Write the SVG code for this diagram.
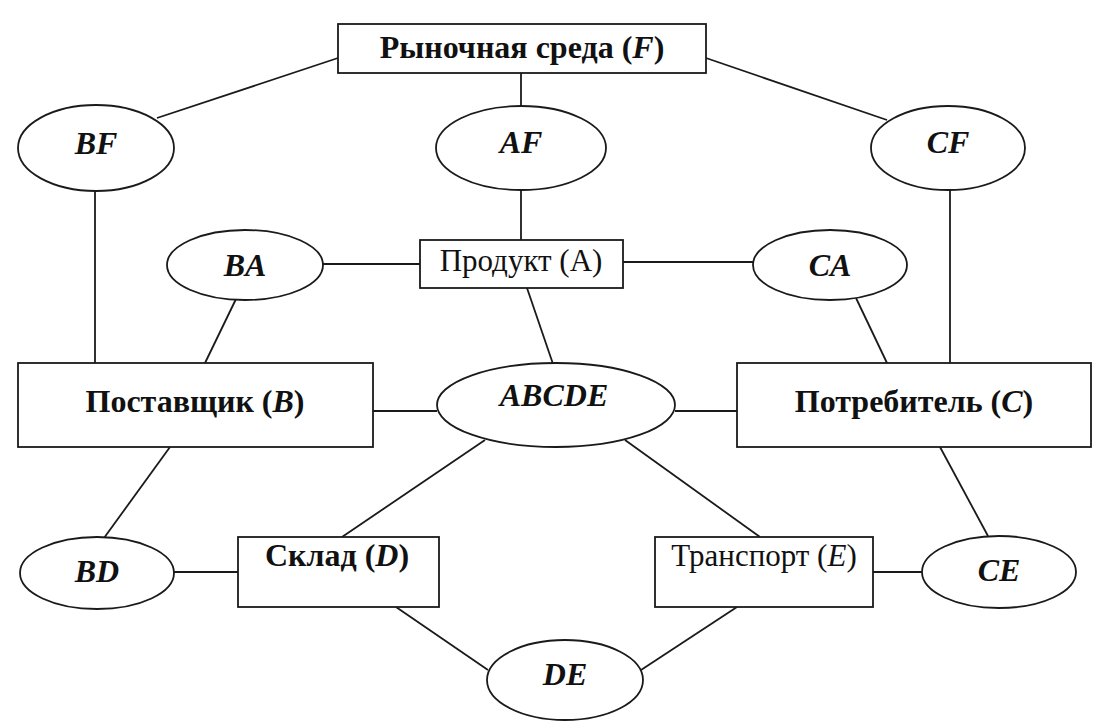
<svg xmlns="http://www.w3.org/2000/svg" width="1093" height="722" viewBox="0 0 1093 722">
  <style>
    .box { fill: #ffffff; stroke: #1a1a1a; stroke-width: 1.8; }
    .ell { fill: #ffffff; stroke: #1a1a1a; stroke-width: 1.8; }
    .edge { stroke: #1a1a1a; stroke-width: 1.8; fill: none; }
    text { font-family: "Liberation Serif", "Times New Roman", serif; fill: #111111; text-anchor: middle; }
    .bold { font-size: 32px; font-weight: bold; }
    .reg { font-size: 31px; }
    .var { font-style: italic; }
    .elabel { font-size: 32px; font-weight: bold; font-style: italic; }
  </style>
  <rect width="1093" height="722" fill="#ffffff"/>

  <!-- connectors -->
  <g id="connectors">
    <line class="edge" x1="338" y1="58" x2="157" y2="118"/>
    <line class="edge" x1="706" y1="58" x2="887" y2="120"/>
    <line class="edge" x1="521" y1="73" x2="521" y2="106"/>
    <line class="edge" x1="521" y1="190" x2="521" y2="240"/>
    <line class="edge" x1="95" y1="191" x2="95" y2="363"/>
    <line class="edge" x1="950" y1="190" x2="950" y2="363"/>
    <line class="edge" x1="323" y1="264" x2="420" y2="264"/>
    <line class="edge" x1="623" y1="262" x2="753" y2="262"/>
    <line class="edge" x1="236" y1="299" x2="205" y2="363"/>
    <line class="edge" x1="856" y1="298" x2="887" y2="363"/>
    <line class="edge" x1="527" y1="288" x2="553" y2="364"/>
    <line class="edge" x1="373" y1="411" x2="437" y2="411"/>
    <line class="edge" x1="675" y1="411" x2="737" y2="411"/>
    <line class="edge" x1="170" y1="447" x2="104" y2="538"/>
    <line class="edge" x1="940" y1="447" x2="988" y2="536"/>
    <line class="edge" x1="485" y1="440" x2="342" y2="537"/>
    <line class="edge" x1="625" y1="440" x2="760" y2="537"/>
    <line class="edge" x1="174" y1="572" x2="238" y2="572"/>
    <line class="edge" x1="873" y1="572" x2="922" y2="572"/>
    <line class="edge" x1="396" y1="607" x2="488" y2="670"/>
    <line class="edge" x1="737" y1="607" x2="641" y2="670"/>
  </g>

  <!-- market environment -->
  <g id="F">
    <rect class="box" x="338" y="24" width="368" height="49"/>
    <text class="bold" x="522" y="58">Рыночная среда (<tspan class="var">F</tspan>)</text>
  </g>

  <g id="BF">
    <ellipse class="ell" cx="96" cy="148" rx="78" ry="43"/>
    <text class="elabel" x="96" y="154">BF</text>
  </g>
  <g id="AF">
    <ellipse class="ell" cx="521" cy="148" rx="85" ry="42"/>
    <text class="elabel" x="521" y="153">AF</text>
  </g>
  <g id="CF">
    <ellipse class="ell" cx="948" cy="148" rx="77" ry="42"/>
    <text class="elabel" x="948" y="153">CF</text>
  </g>

  <g id="BA">
    <ellipse class="ell" cx="245" cy="265" rx="78" ry="35"/>
    <text class="elabel" x="245" y="276">BA</text>
  </g>
  <g id="A">
    <rect class="box" x="420" y="240" width="203" height="48"/>
    <text class="reg" x="521" y="271">Продукт (A)</text>
  </g>
  <g id="CA">
    <ellipse class="ell" cx="830" cy="265" rx="77" ry="35"/>
    <text class="elabel" x="830" y="276">CA</text>
  </g>

  <g id="B">
    <rect class="box" x="18" y="363" width="355" height="84"/>
    <text class="bold" x="195" y="412">Поставщик (<tspan class="var">B</tspan>)</text>
  </g>
  <g id="ABCDE">
    <ellipse class="ell" cx="556" cy="405" rx="119" ry="42"/>
    <text class="elabel" x="554" y="406">ABCDE</text>
  </g>
  <g id="C">
    <rect class="box" x="737" y="363" width="354" height="84"/>
    <text class="bold" x="914" y="412">Потребитель (<tspan class="var">C</tspan>)</text>
  </g>

  <g id="BD">
    <ellipse class="ell" cx="97" cy="573" rx="77" ry="36"/>
    <text class="elabel" x="97" y="582">BD</text>
  </g>
  <g id="D">
    <rect class="box" x="238" y="537" width="201" height="70"/>
    <text class="bold" x="337" y="566">Склад (<tspan class="var">D</tspan>)</text>
  </g>
  <g id="E">
    <rect class="box" x="655" y="537" width="218" height="70"/>
    <text class="reg" x="764" y="566">Транспорт (<tspan class="var">E</tspan>)</text>
  </g>
  <g id="CE">
    <ellipse class="ell" cx="999" cy="572" rx="77" ry="36"/>
    <text class="elabel" x="999" y="581">CE</text>
  </g>

  <g id="DE">
    <ellipse class="ell" cx="565" cy="680" rx="78" ry="40"/>
    <text class="elabel" x="565" y="685">DE</text>
  </g>
</svg>
